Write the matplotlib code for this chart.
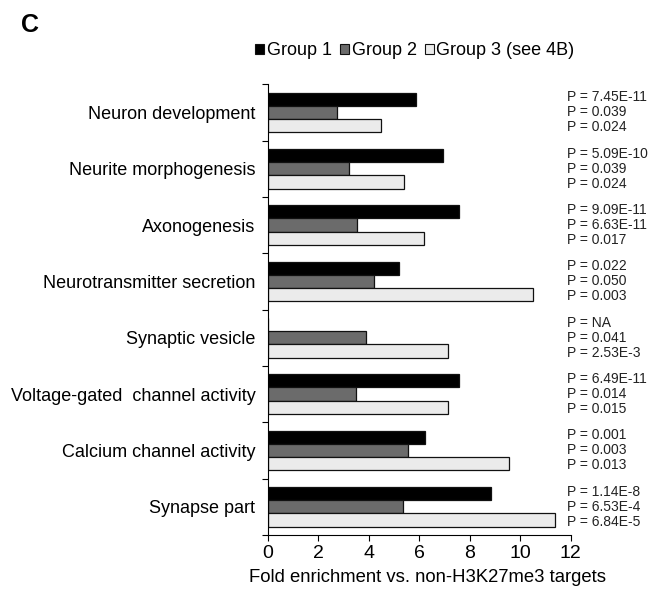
import matplotlib
matplotlib.use("Agg")
import matplotlib.pyplot as plt
import numpy as np
from matplotlib.patches import Patch

plt.rcParams['font.family'] = ['Liberation Sans', 'DejaVu Sans']

categories = ["Neuron development", "Neurite morphogenesis", "Axonogenesis",
              "Neurotransmitter secretion", "Synaptic vesicle",
              "Voltage-gated  channel activity", "Calcium channel activity",
              "Synapse part"]
group1 = [5.88, 6.94, 7.56, 5.20, 0.0, 7.56, 6.23, 8.84]
group2 = [2.76, 3.21, 3.55, 4.20, 3.91, 3.49, 5.57, 5.35]
group3 = [4.49, 5.40, 6.18, 10.51, 7.15, 7.15, 9.56, 11.38]
pvals1 = ["7.45E-11", "5.09E-10", "9.09E-11", "0.022", "NA", "6.49E-11", "0.001", "1.14E-8"]
pvals2 = ["0.039", "0.039", "6.63E-11", "0.050", "0.041", "0.014", "0.003", "6.53E-4"]
pvals3 = ["0.024", "0.024", "0.017", "0.003", "2.53E-3", "0.015", "0.013", "6.84E-5"]
legend_labels = ["Group 1", "Group 2", "Group 3 (see 4B)"]
colors = ["#000000", "#6b6b6b", "#ebebeb"]

fig = plt.figure(figsize=(6.5, 5.93), dpi=100)
ax = fig.add_axes([0.412, 0.098, 0.466, 0.760])

y = np.arange(len(categories))
h = 0.235
for k, (vals, c) in enumerate(zip([group1, group2, group3], colors)):
    ax.barh(y + (k - 1) * h, vals, height=h, color=c, edgecolor="#111111",
            linewidth=0.9)

for i in range(len(categories)):
    for k, p in enumerate([pvals1[i], pvals2[i], pvals3[i]]):
        ax.text(11.85, y[i] + (k - 1) * 0.265, "P = " + p, fontsize=10,
                va="center", ha="left", clip_on=False, color="#222222")

ax.set_xlim(0, 12)
ax.set_ylim(len(categories) - 0.5, -0.5)
ax.set_xticks(range(0, 13, 2))
ax.tick_params(axis="x", labelsize=14, length=4, direction="out", pad=3)
ax.set_yticks(np.arange(-0.5, len(categories), 1.0))
ax.set_yticklabels([])
ax.set_yticks(y, minor=True)
ax.set_yticklabels(categories, minor=True, fontsize=13)
ax.tick_params(axis="y", which="minor", length=0, pad=9)
ax.tick_params(axis="y", which="major", length=4)
for s in ["top", "right"]:
    ax.spines[s].set_visible(False)
ax.set_xlabel("Fold enrichment vs. non-H3K27me3 targets", fontsize=13.3)
ax.xaxis.set_label_coords(0.528, -0.076)

handles = [Patch(facecolor=c, edgecolor="#111111", linewidth=0.8) for c in colors]
fig.legend(handles, legend_labels, loc="center", bbox_to_anchor=(0.638, 0.914),
           ncol=3, frameon=False, fontsize=13, handlelength=0.5,
           handleheight=0.5, handletextpad=0.15, columnspacing=0.45)

fig.text(0.032, 0.958, "C", fontsize=18, fontweight="bold", va="center")

fig.savefig("out.png", dpi=100)
